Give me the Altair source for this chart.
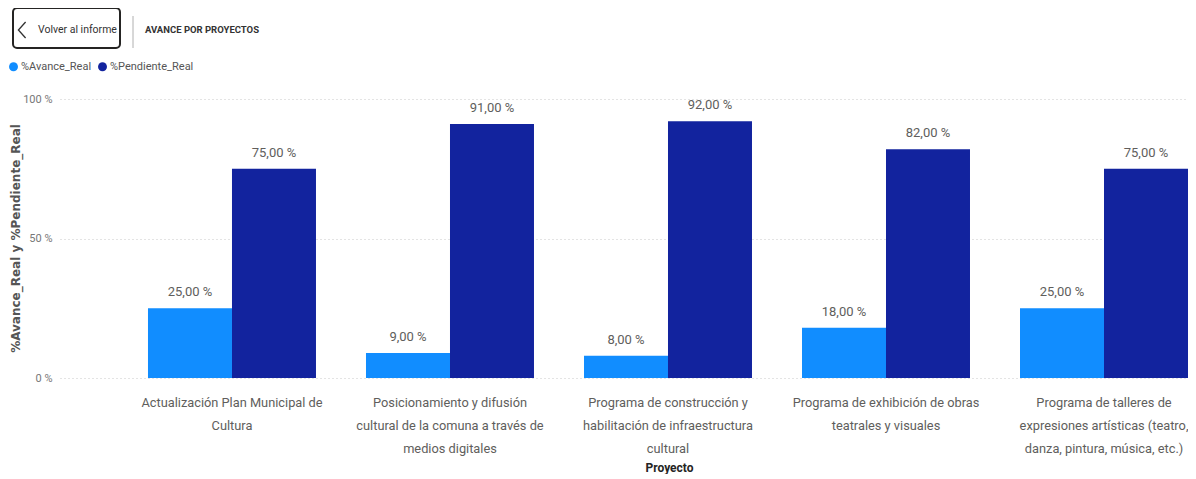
import altair as alt
import pandas as pd

proyectos = [
    "Actualización Plan Municipal de Cultura",
    "Posicionamiento y difusión cultural de la comuna a través de medios digitales",
    "Programa de construcción y habilitación de infraestructura cultural",
    "Programa de exhibición de obras teatrales y visuales",
    "Programa de talleres de expresiones artísticas (teatro, danza, pintura, música, etc.)",
]
etiquetas = [
    "Actualización Plan Municipal de|Cultura",
    "Posicionamiento y difusión|cultural de la comuna a través de|medios digitales",
    "Programa de construcción y|habilitación de infraestructura|cultural",
    "Programa de exhibición de obras|teatrales y visuales",
    "Programa de talleres de|expresiones artísticas (teatro,|danza, pintura, música, etc.)",
]
avance = [25, 9, 8, 18, 25]
pendiente = [75, 91, 92, 82, 75]
series = ["%Avance_Real", "%Pendiente_Real"]
colores = ["#118DFF", "#12239E"]

FONT = "Roboto, sans-serif"

rows = []
for p, e, a, q in zip(proyectos, etiquetas, avance, pendiente):
    rows.append({"Proyecto": p, "Etiqueta": e, "Serie": series[0], "Valor": a})
    rows.append({"Proyecto": p, "Etiqueta": e, "Serie": series[1], "Valor": q})
df = pd.DataFrame(rows)

W, H = 1128, 279

x_enc = alt.X(
    "Etiqueta:N",
    sort=etiquetas,
    scale=alt.Scale(paddingInner=0.2294, paddingOuter=0.2018, align=1.0),
    axis=alt.Axis(
        title="Proyecto",
        titleFont=FONT,
        titleFontSize=12,
        titleFontWeight="bold",
        titleColor="#252423",
        titleX=609,
        titleY=89,
        titleAlign="center",
        titleBaseline="middle",
        labelExpr="split(datum.label, '|')",
        labelAngle=0,
        labelFont=FONT,
        labelFontSize=12.8,
        labelColor="#605E5C",
        labelLineHeight=23,
        labelPadding=18,
        labelBaseline="top",
        labelLimit=400,
        domain=False,
        ticks=False,
        grid=False,
    ),
)
y_enc = alt.Y(
    "Valor:Q",
    scale=alt.Scale(domain=[0, 100]),
    axis=alt.Axis(
        values=[0, 50, 100],
        labelExpr="datum.value + ' %'",
        title="%Avance_Real y %Pendiente_Real",
        titleFont="DejaVu Sans",
        titleFontSize=12,
        titleFontWeight="bold",
        titleColor="#555555",
        titleX=-45,
        titleY=139,
        titleAngle=-90,
        titleAlign="center",
        titleBaseline="middle",
        labelFont=FONT,
        labelFontSize=11,
        labelColor="#777777",
        labelPadding=8,
        domain=False,
        ticks=False,
        grid=True,
        gridColor="#c8c8c8",
        gridDash=[1, 3],
        gridWidth=1,
    ),
)

base = alt.Chart(df).encode(
    x=x_enc,
    xOffset=alt.XOffset("Serie:N", sort=series, scale=alt.Scale(paddingInner=0, paddingOuter=0)),
)

bars = base.mark_bar().encode(
    y=y_enc,
    color=alt.Color(
        "Serie:N",
        sort=series,
        scale=alt.Scale(domain=series, range=colores),
        legend=alt.Legend(
            title=None,
            orient="none",
            legendX=-52,
            legendY=-38,
            direction="horizontal",
            symbolType="circle",
            symbolSize=80,
            symbolStrokeWidth=0,
            labelFont=FONT,
            labelFontSize=11,
            labelColor="#555555",
            labelOffset=2,
            columnPadding=5,
        ),
    ),
)

labels = base.transform_calculate(
    txt="replace(format(datum.Valor, '.2f'), '.', ',') + ' %'"
).mark_text(
    baseline="bottom", dy=-9, font=FONT, fontSize=13, color="#605E5C"
).encode(y=alt.Y("Valor:Q"), text="txt:N")

one = pd.DataFrame({"k": [0]})

button = alt.Chart(one).mark_rect(
    fill="white", stroke="#252423", strokeWidth=2, cornerRadius=4
).encode(x=alt.value(-47), x2=alt.value(60), y=alt.value(-91), y2=alt.value(-51))

chevron = alt.Chart(one).mark_point(
    shape="M 0.45 -1 L -0.45 0 L 0.45 1", filled=False, size=256,
    stroke="#333333", strokeWidth=1.3, opacity=1
).encode(x=alt.value(-38), y=alt.value(-69))

volver = alt.Chart(one).mark_text(
    text="Volver al informe", align="left", baseline="middle",
    font=FONT, fontSize=10.5, color="#333333"
).encode(x=alt.value(-22), y=alt.value(-69))

sep = alt.Chart(one).mark_rule(color="#b0b0b0", strokeWidth=1).encode(
    x=alt.value(73), y=alt.value(-83), y2=alt.value(-51)
)

titulo = alt.Chart(one).mark_text(
    text="AVANCE POR PROYECTOS", align="left", baseline="middle",
    font=FONT, fontSize=9.5, fontWeight="bold", color="#333333"
).encode(x=alt.value(85), y=alt.value(-69))

chart = alt.layer(bars, labels, button, chevron, volver, sep, titulo).properties(
    width=W,
    height=H,
    autosize=alt.AutoSizeParams(type="none"),
    padding={"left": 52, "top": 91, "right": 0, "bottom": 96},
    background="white",
).configure_view(stroke=None)

chart.save("out.html", embed_options={"renderer": "svg", "actions": False})
